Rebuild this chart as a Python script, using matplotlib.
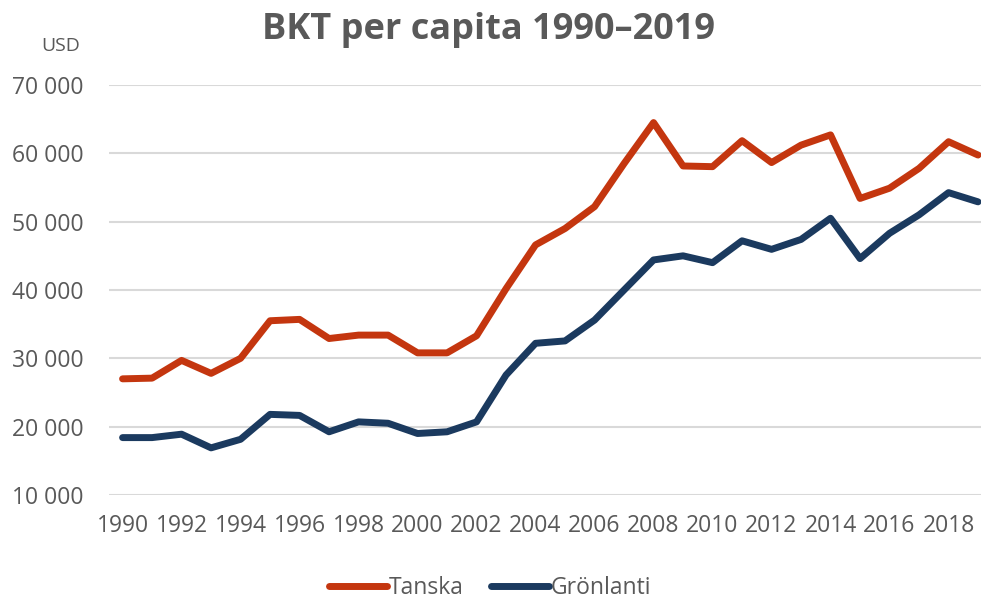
import matplotlib
matplotlib.use("Agg")
import matplotlib.pyplot as plt
from matplotlib.ticker import FuncFormatter

# BKT per capita, USD
years = list(range(1990, 2020))
tanska = [27000, 27100, 29700, 27800, 30000, 35500, 35700, 32900, 33400, 33400,
          30800, 30800, 33300, 40200, 46600, 49000, 52200, 58500, 64500, 58150,
          58050, 61850, 58650, 61200, 62700, 53400, 54900, 57800, 61700, 59750]
gronlanti = [18400, 18400, 18900, 16900, 18150, 21800, 21650, 19250, 20700, 20500,
             19000, 19250, 20700, 27560, 32200, 32550, 35600, 40000, 44400, 45000,
             44000, 47200, 45950, 47400, 50500, 44600, 48300, 51000, 54250, 52900]
series_names = ["Tanska", "Grönlanti"]
xtick_years = list(range(1990, 2019, 2))
yticks = [10000, 20000, 30000, 40000, 50000, 60000, 70000]

plt.rcParams['font.family'] = ['Open Sans', 'DejaVu Sans']
grey = "#595959"

fig = plt.figure(figsize=(9.81, 6.0), dpi=100)
ax = fig.add_axes([109/981, 105/600, 1 - 109/981, 410/600])

ax.plot(years, tanska, color="#C4360F", lw=5, solid_capstyle="round",
        solid_joinstyle="round", label=series_names[0], zorder=3)
ax.plot(years, gronlanti, color="#1B3A5F", lw=5, solid_capstyle="round",
        solid_joinstyle="round", label=series_names[1], zorder=3)

ax.set_xlim(1989.54, 2019.1)
ax.set_ylim(10000, 70000)
ax.set_yticks(yticks)
ax.set_xticks(xtick_years)
ax.yaxis.set_major_formatter(FuncFormatter(lambda v, p: f"{int(v):,}".replace(",", " ")))
ax.grid(axis="y", color="#D9D9D9", lw=1.5)
ax.set_axisbelow(True)
for s in ax.spines.values():
    s.set_visible(False)
ax.tick_params(length=0, labelsize=16.5, colors=grey)
ax.tick_params(axis="y", pad=18)
ax.tick_params(axis="x", pad=14)

fig.text(489/981, 1 - 30/600, "BKT per capita 1990–2019", ha="center", va="center",
         fontsize=26, fontweight="bold", color=grey)
fig.text(61/981, 1 - 46/600, "USD", ha="center", va="center", fontsize=14, color=grey)

leg = fig.legend(loc="center", bbox_to_anchor=(0.5, 1 - 588/600), ncol=2, frameon=False,
                 fontsize=16.5, handlelength=2.5, handletextpad=0.1, columnspacing=1.2)
for t in leg.get_texts():
    t.set_color(grey)

fig.savefig("out.png", dpi=100)
